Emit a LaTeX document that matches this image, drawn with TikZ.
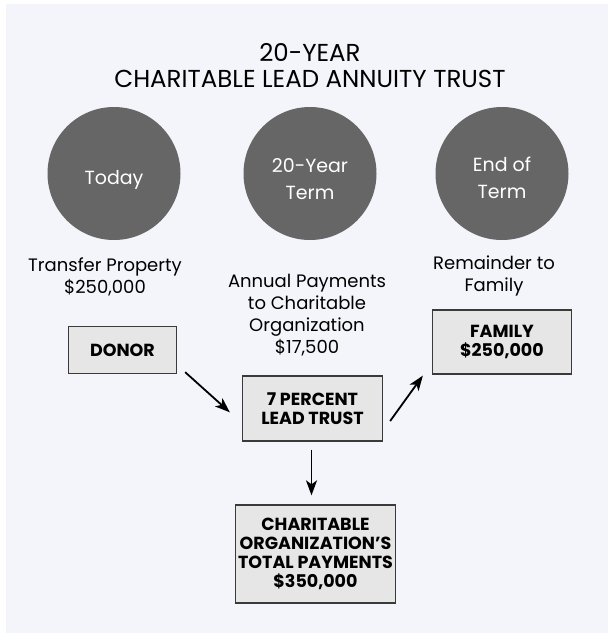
\documentclass[tikz,border=0pt]{standalone}
\usepackage{fontspec}
\setmainfont{Poppins}
\usetikzlibrary{arrows.meta}
\definecolor{bgcol}{HTML}{F4F5FA}
\definecolor{disc}{HTML}{666666}
\definecolor{boxfill}{HTML}{E6E6E6}
\definecolor{boxline}{HTML}{3A3A3A}
\tikzset{
  stage/.style={circle, fill=disc, text=white, minimum size=133pt, inner sep=0pt,
    align=center, font=\fontsize{19}{27}\selectfont},
  lbl/.style={align=center, font=\fontsize{18}{22}\selectfont},
  acct/.style={draw=boxline, line width=1.3pt, fill=boxfill, align=center, inner sep=0pt,
    font=\bfseries\fontsize{17.5}{19}\selectfont},
  flow/.style={line width=1.8pt, -{Stealth[length=15pt,width=11pt,inset=4pt]}}
}
\begin{document}
\begin{tikzpicture}[x=1pt,y=-1pt]
      \useasboundingbox (0,0) rectangle (608,633);
      \fill[bgcol]     (6,4) rectangle (608,633);
      \node[align=center, font=\fontsize{24.5}{26}\selectfont]
                       (title) at (310,66) {20-YEAR\\CHARITABLE LEAD ANNUITY TRUST};
      \foreach \x/\when/\name/\lift in {114/Today/today/26, 310/{20-Year\\Term}/midterm/53, 502/{End of\\Term}/termend/50} {
        \node[stage, text height=\lift pt] (\name) at (\x,173.5) {\when};
      }
      \node[lbl]       (give) at (105,277) {Transfer Property\\\$250,000};
      \node[lbl]       (annual) at (307,315) {Annual Payments\\to Charitable\\Organization\\\$17,500};
      \node[lbl]       (rest) at (494,276) {Remainder to\\Family};
      \node[acct, minimum width=108pt, minimum height=47pt]
                       (donor) at (122.5,350) {DONOR};
      \node[acct, minimum width=140pt, minimum height=65pt]
                       (trust) at (312.5,408.5) {7 PERCENT\\LEAD TRUST};
      \node[acct, minimum width=139pt, minimum height=64pt]
                       (family) at (502,342) {FAMILY\\\$250,000};
      \node[acct, minimum width=160pt, minimum height=98pt]
                       (total) at (315.5,554) {CHARITABLE\\ORGANIZATION’S\\TOTAL PAYMENTS\\\$350,000};
      % flows between the boxes
      \draw[flow]      ([xshift=8pt,yshift=2pt]donor.south east) -- ([xshift=-12pt,yshift=-3.8pt]trust.west);
      \draw[flow]      ([xshift=7pt,yshift=-12.5pt]trust.east) -- ([xshift=-9pt,yshift=-1pt]family.south west);
      \draw[flow]      ([xshift=-1pt,yshift=-8pt]trust.south) -- ([xshift=-4pt,yshift=9pt]total.north);
    \end{tikzpicture}
\end{document}
